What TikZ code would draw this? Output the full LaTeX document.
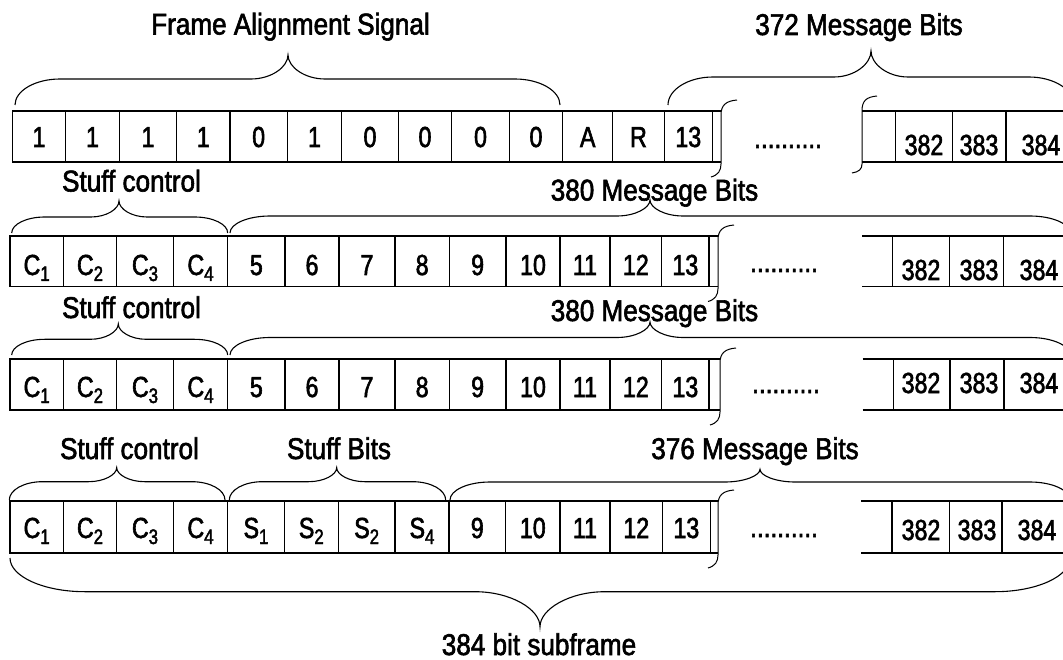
\documentclass[tikz,border=0pt]{standalone}
\usepackage{fontspec}
\setmainfont{Liberation Sans}[FakeStretch=0.87,FakeBold=2]
\newfontfamily\cellfont{Liberation Sans}[FakeStretch=0.8,FakeBold=2]
\newcommand\subs[1]{\raisebox{-6pt}{\fontsize{21}{21}\selectfont #1}}
\tikzset{
  frame line/.style={line width=1.1pt, black},
  brace line/.style={line width=1.1pt, black},
  torn line/.style={line width=1pt, black},
  bitlabel/.style={anchor=base, inner sep=0pt, font=\cellfont\fontsize{29}{29}\selectfont},
  dotslabel/.style={anchor=base, inner sep=0pt, font=\fontsize{28}{28}\selectfont},
  grouplabel/.style={anchor=base, inner sep=0pt, font=\fontsize{30}{30}\selectfont},
}
% curly brace: x1, x2, x of tip, y of ends, y of flat part, y of tip, end bend, tip bend
\newcommand\groupbrace[8]{%
  \draw[brace line] (#1,#4) .. controls (#1,{#4+0.55*(#5-#4)}) and ({#1+0.45*#7},#5) .. ({#1+#7},#5)
    -- ({#3-#8},#5) .. controls ({#3-0.45*#8},#5) and (#3,{#5+0.5*(#6-#5)}) .. (#3,#6)
    .. controls (#3,{#5+0.5*(#6-#5)}) and ({#3+0.45*#8},#5) .. ({#3+#8},#5)
    -- ({#2-#7},#5) .. controls ({#2-0.45*#7},#5) and (#2,{#4+0.55*(#5-#4)}) .. (#2,#4);}
% torn edge where the bit sequence is cut: x, top, bottom
\newcommand\tornedge[3]{%
  \draw[torn line] ({#1+16},{#2-11}) .. controls ({#1+5},{#2-10}) and (#1,{#2-6}) .. (#1,{#2+4})
    -- (#1,{#3+2}) .. controls (#1,{#3+9}) and ({#1-3},{#3+13}) .. ({#1-10},{#3+15});}
\begin{document}
\begin{tikzpicture}[x=1pt,y=-1pt]
\clip (0,0) rectangle (1063,660);
\fill[white] (0,0) rectangle (1063,660);

% ---------------- row 1: frame alignment word ----------------
\foreach \a/\b/\t [count=\i] in {12.3/65.7/1,65.7/119.3/1,119.3/176.7/1,176.7/230/1,230/287.3/0,287.3/341.7/1,341.7/398.3/0,398.3/451.7/0,451.7/509.3/0,509.3/562.7/0,562.7/612.7/A,612.7/664.3/R,664.3/712.3/13}
  {\draw[frame line] (\a,111) rectangle (\b,162);
   \node[bitlabel] (ra\i) at ({(\a+\b)/2},147) {\t};}
\draw[frame line] (712.3,111) -- (721,111) (712.3,162) -- (721,162);
\tornedge{721}{111}{162}
\node[dotslabel] (radots) at (788,148) {..........};
\draw[frame line] (862,111) -- (1070,111) (862,162) -- (1070,162);
\foreach \x in {895.7,952.3,1006} \draw[frame line] (\x,111) -- (\x,162);
\draw[torn line] (877,96) .. controls (866,97) and (862,101) .. (862,111) -- (862,164)
  .. controls (862,169) and (859,172) .. (852,173);
\node[bitlabel] (rb1) at (924,155) {382};
\node[bitlabel] (rb2) at (979,155) {383};
\node[bitlabel] (rb3) at (1041,155) {384};

\groupbrace{15}{560}{288}{105}{79}{55}{45}{37}
\node[grouplabel] (fas) at (290.5,34.5) {Frame Alignment Signal};
\groupbrace{668}{1074}{871}{105}{77}{51}{45}{37}
\node[grouplabel] (msg372) at (859,35) {372 Message Bits};

% ---------------- row 2 ----------------
\foreach \a/\b/\t [count=\i] in {10/63.3/{C\subs{1}},63.3/116.7/{C\subs{2}},116.7/173.3/{C\subs{3}},173.3/227.7/{C\subs{4}},227.7/285/5,285/339/6,339/395/7,395/449.3/8,449.3/506/9,506/560/10,560/610/11,610/661.7/12,661.7/709/13}
  {\draw[frame line] (\a,236) rectangle (\b,286.5);
   \node[bitlabel] (sa\i) at ({(\a+\b)/2},275) {\t};}
\draw[frame line] (709,236) -- (718,236) (709,286.5) -- (718,286.5);
\tornedge{718}{236}{286.5}
\node[dotslabel] (sadots) at (784,272) {..........};
\draw[frame line] (862,236) -- (1070,236) (862,286.5) -- (1070,286.5);
\foreach \x in {892.7,949.3,1003.3} \draw[frame line] (\x,236) -- (\x,286.5);
\node[bitlabel] (sb1) at (921,280) {382};
\node[bitlabel] (sb2) at (979,280) {383};
\node[bitlabel] (sb3) at (1039,280) {384};

\groupbrace{11.7}{227.7}{119}{233}{217}{201}{33}{28}
\node[grouplabel] (sc2) at (131.5,191.5) {Stuff control};
\groupbrace{230}{1070}{650}{233}{216}{200}{40}{33}
\node[grouplabel] (msg380a) at (654.5,200.5) {380 Message Bits};

% ---------------- row 3 ----------------
\foreach \a/\b/\t [count=\i] in {10/63.3/{C\subs{1}},63.3/116.7/{C\subs{2}},116.7/173.3/{C\subs{3}},173.3/227.7/{C\subs{4}},227.7/285/5,285/339/6,339/395/7,395/449.3/8,449.3/506/9,506/560/10,560/610/11,610/661.7/12,661.7/709/13}
  {\draw[frame line] (\a,359) rectangle (\b,410);
   \node[bitlabel] (ta\i) at ({(\a+\b)/2},397) {\t};}
\draw[frame line] (709,359) -- (720,359) (709,410) -- (720,410);
\tornedge{720}{359}{410}
\node[dotslabel] (tadots) at (786,393) {..........};
\draw[frame line] (862.7,359) -- (1070,359) (862.7,410) -- (1070,410);
\foreach \x in {893.3,950,1004} \draw[frame line] (\x,359) -- (\x,410);
\node[bitlabel] (tb1) at (921,393) {382};
\node[bitlabel] (tb2) at (979,393) {383};
\node[bitlabel] (tb3) at (1039,393) {384};

\groupbrace{11.7}{227.7}{118.3}{355}{339.3}{324}{33}{28}
\node[grouplabel] (sc3) at (131.5,318) {Stuff control};
\groupbrace{230}{1070}{650}{355}{337.5}{322}{40}{33}
\node[grouplabel] (msg380b) at (654.5,321) {380 Message Bits};

% ---------------- row 4 ----------------
\foreach \a/\b/\t [count=\i] in {10/63.3/{C\subs{1}},63.3/116.7/{C\subs{2}},116.7/173.3/{C\subs{3}},173.3/227.7/{C\subs{4}},227.7/284.3/{S\subs{1}},284.3/338.3/{S\subs{2}},338.3/395/{S\subs{2}},395/449/{S\subs{4}},449/505.6/9,505.6/560/10,560/610/11,610/662.5/12,662.5/710.2/13}
  {\draw[frame line] (\a,501) rectangle (\b,553);
   \node[bitlabel] (ua\i) at ({(\a+\b)/2},538) {\t};}
\draw[frame line] (710.2,501) -- (718,501) (710.2,553) -- (718,553);
\tornedge{718}{501}{553}
\node[dotslabel] (uadots) at (784,537) {..........};
\draw[frame line] (861,501) -- (1070,501) (861,553) -- (1070,553);
\foreach \x in {892,949.7,1002} \draw[frame line] (\x,501) -- (\x,553);
\node[bitlabel] (ub1) at (921,540) {382};
\node[bitlabel] (ub2) at (977,540) {383};
\node[bitlabel] (ub3) at (1037,540) {384};

\groupbrace{9.3}{225}{116.7}{500}{481.7}{467.7}{33}{28}
\node[grouplabel] (sc4) at (129.5,459) {Stuff control};
\groupbrace{229.3}{445.7}{336.7}{500}{481.7}{467.7}{33}{28}
\node[grouplabel] (sbits) at (339,459) {Stuff Bits};
\groupbrace{450}{1070}{760}{500}{482}{469.3}{40}{35}
\node[grouplabel] (msg376) at (755,459) {376 Message Bits};

% ---------------- whole subframe ----------------
\groupbrace{10}{1070}{540}{558}{591.7}{626.7}{75}{65}
\node[grouplabel] (subframe) at (539,655) {384 bit subframe};
\end{tikzpicture}
\end{document}
